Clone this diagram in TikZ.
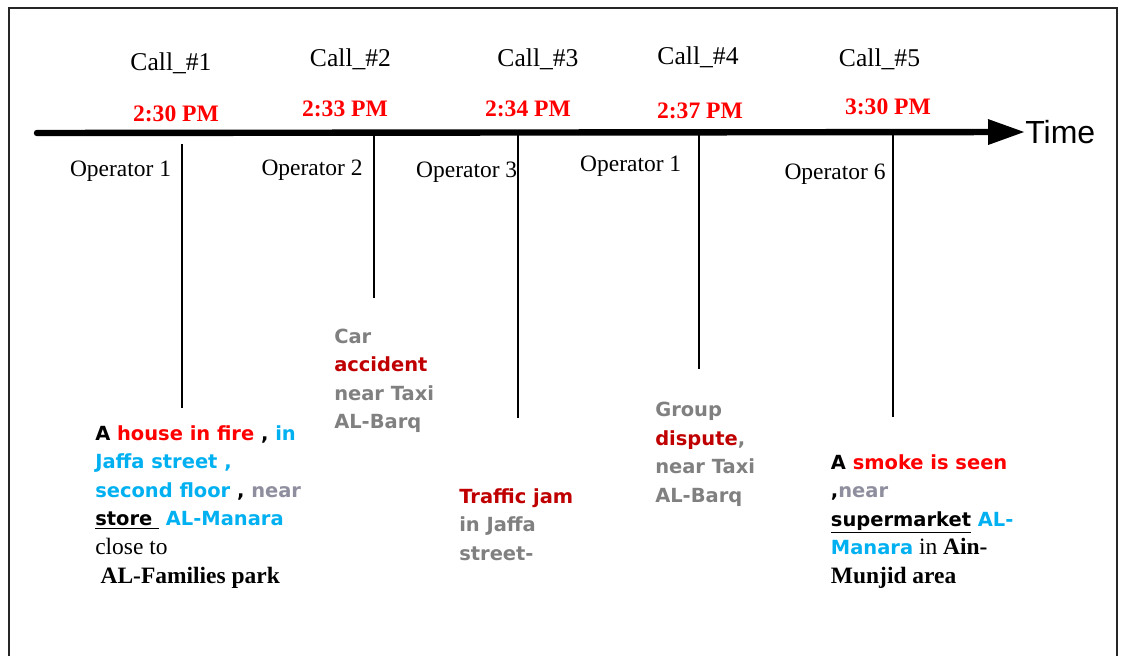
\documentclass[tikz,border=0pt]{standalone}
\usepackage{fontspec}
\setmainfont{Liberation Serif}
\newfontfamily\humanist{DejaVu Sans}
\newfontfamily\arialfont{Liberation Sans}
\usetikzlibrary{arrows.meta}

\definecolor{alertred}{HTML}{FF0000}
\definecolor{placeblue}{HTML}{00B0F0}
\definecolor{notegray}{HTML}{808080}
\definecolor{eventred}{HTML}{C00000}
\definecolor{neargray}{HTML}{8E8E9E}

% serif run inside a callout
\newcommand\serifpart{\rmfamily\mdseries\fontsize{17.6}{21.45}\selectfont}

\begin{document}
\begin{tikzpicture}[
  x=0.75pt, y=-0.75pt,
  calllabel/.style={anchor=base, inner sep=0pt, font=\fontsize{19.2}{23}\selectfont},
  timelabel/.style={anchor=base, inner sep=0pt, text=alertred, font=\bfseries\fontsize{17.7}{21}\selectfont},
  oplabel/.style={anchor=base, inner sep=0pt, font=\fontsize{17.6}{21}\selectfont},
  callout/.style={anchor=base west, inner sep=0pt, font=\humanist\bfseries\fontsize{14.6}{21.45}\selectfont},
  dropline/.style={line width=1.1pt},
  axisline/.style={line width=4.8pt, line cap=round, -{Triangle[length=27.75pt,width=18pt]}},
  frameline/.style={line width=1.2pt, draw=black!85}
]
\useasboundingbox (0,0) rectangle (1121,656);

% outer frame (open at the bottom)
\draw[frameline] (9,656) -- (9,8) -- (1117,8) -- (1117,656);

% time axis
\coordinate (axstart) at (37,133);
\node[anchor=west, inner sep=0pt, font=\arialfont\fontsize{24}{28}\selectfont] (timelbl) at (1025,132) {Time};
\draw[axisline] (axstart) -- (timelbl.west);

% call names
\node[calllabel] (c1) at (171,71) {Call\_\#1};
\node[calllabel] (c2) at (350.5,66.7) {Call\_\#2};
\node[calllabel] (c3) at (538,66.5) {Call\_\#3};
\node[calllabel] (c4) at (698,64.7) {Call\_\#4};
\node[calllabel] (c5) at (879.5,66.7) {Call\_\#5};

% call times
\node[timelabel] (t1) at (176,121.7) {2:30 PM};
\node[timelabel] (t2) at (345,116.7) {2:33 PM};
\node[timelabel] (t3) at (528,116.7) {2:34 PM};
\node[timelabel] (t4) at (700,118.7) {2:37 PM};
\node[timelabel] (t5) at (888,114.3) {3:30 PM};

% operators
\node[oplabel] (o1) at (120.5,176.7) {Operator 1};
\node[oplabel] (o2) at (312,175.7) {Operator 2};
\node[oplabel] (o3) at (466.7,177.7) {Operator 3};
\node[oplabel] (o4) at (630.7,171.7) {Operator 1};
\node[oplabel] (o5) at (835,180) {Operator 6};

% drop lines from the axis
\coordinate (d1a) at (182,144); \coordinate (d1b) at (182,408);
\coordinate (d2a) at (374,135); \coordinate (d2b) at (374,298);
\coordinate (d3a) at (518,135); \coordinate (d3b) at (518,418);
\coordinate (d4a) at (699,135); \coordinate (d4b) at (699,369);
\coordinate (d5a) at (893,135); \coordinate (d5b) at (893,417);
\draw[dropline] (d1a) -- (d1b);
\draw[dropline] (d2a) -- (d2b);
\draw[dropline] (d3a) -- (d3b);
\draw[dropline] (d4a) -- (d4b);
\draw[dropline] (d5a) -- (d5b);

% event descriptions
\node[callout] (ev1) at (95,440) {\vtop{\baselineskip=21.45pt
  \hbox{A \textcolor{alertred}{house in fire} , \textcolor{placeblue}{in}}
  \hbox{\textcolor{placeblue}{Jaffa street ,}}
  \hbox{\textcolor{placeblue}{second floor} , \textcolor{neargray}{near}}
  \hbox{\underline{store\ } \textcolor{placeblue}{AL-Manara}}
  \hbox{\serifpart close to}
  \hbox{\serifpart\bfseries\hspace{4pt}AL-Families park}}};

\node[callout, text=notegray] (ev2) at (334,343) {\vtop{\baselineskip=21.45pt
  \hbox{Car}
  \hbox{\textcolor{eventred}{accident}}
  \hbox{near Taxi}
  \hbox{AL-Barq}}};

\node[callout, text=notegray] (ev3) at (459,503) {\vtop{\baselineskip=21.45pt
  \hbox{\textcolor{eventred}{Traffic jam}}
  \hbox{in Jaffa}
  \hbox{street-}}};

\node[callout, text=notegray] (ev4) at (655,416.7) {\vtop{\baselineskip=21.45pt
  \hbox{Group}
  \hbox{\textcolor{eventred}{dispute},}
  \hbox{near Taxi}
  \hbox{AL-Barq}}};

\node[callout] (ev5) at (830.7,469) {\vtop{\baselineskip=21.45pt
  \hbox{A \textcolor{alertred}{smoke is seen}}
  \hbox{,\textcolor{neargray}{near}}
  \hbox{\underline{supermarket} \textcolor{placeblue}{AL-}}
  \hbox{\textcolor{placeblue}{Manara}\serifpart{} in \bfseries Ain-}
  \hbox{\serifpart\bfseries Munjid area}}};
\end{tikzpicture}
\end{document}
